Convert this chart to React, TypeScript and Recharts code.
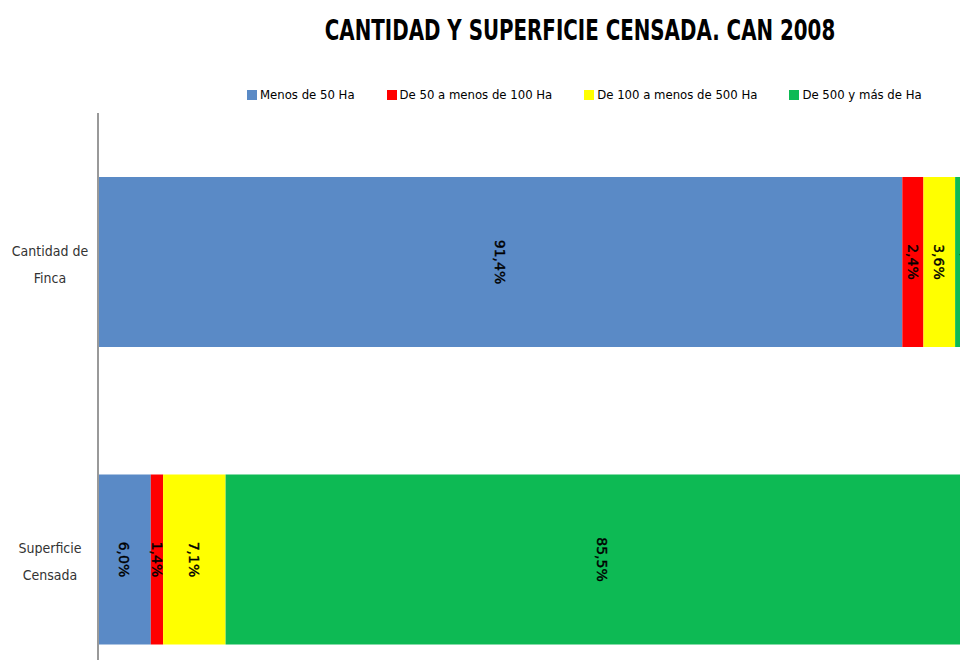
import { Bar, BarChart, LabelList, XAxis, YAxis } from "recharts";

const categories = ["Cantidad de Finca", "Superficie Censada"];
const tickLines = [
  ["Cantidad de", "Finca"],
  ["Superficie", "Censada"],
];

const seriesNames = [
  "Menos de 50 Ha",
  "De 50 a menos de 100 Ha",
  "De 100 a menos de 500 Ha",
  "De 500 y más de Ha",
];
const seriesColours = ["#5A8AC6", "#FF0000", "#FFFF00", "#0DBA54"];

const menos50 = [91.4, 6.0];
const de50a100 = [2.4, 1.4];
const de100a500 = [3.6, 7.1];
const de500mas = [2.6, 85.5];

const seriesValues = [menos50, de50a100, de100a500, de500mas];
const keys = ["s0", "s1", "s2", "s3"];

const data = categories.map((name, i) => {
  const row: Record<string, string | number> = { name };
  keys.forEach((k, s) => {
    row[k] = seriesValues[s][i];
  });
  return row;
});

const narrow = '"Liberation Sans Narrow", "DejaVu Sans Condensed", "Arial Narrow", sans-serif';

function fmt(v: number): string {
  return v.toFixed(1).replace(".", ",") + "%";
}

function CategoryTick(props: any) {
  const { x, y, payload } = props;
  const idx = categories.indexOf(payload.value);
  const lines = tickLines[idx] || [payload.value];
  return (
    <text
      x={x - 40}
      y={y - 6}
      textAnchor="middle"
      fill="#333"
      fontSize={14}
      fontFamily={narrow}
    >
      {lines.map((l, i) => (
        <tspan key={i} x={x - 40} dy={i === 0 ? 0 : 27}>
          {l}
        </tspan>
      ))}
    </text>
  );
}

function RotatedLabel(props: any) {
  const { x, y, width, height, value } = props;
  const cx = x + width / 2;
  const cy = y + height / 2;
  return (
    <text
      x={cx}
      y={cy}
      transform={`rotate(90 ${cx} ${cy})`}
      textAnchor="middle"
      dominantBaseline="central"
      fill="#000"
      stroke="#000"
      strokeWidth={0.4}
      fontSize={14}
      fontFamily='"DejaVu Sans", Verdana, sans-serif'
    >
      {fmt(value)}
    </text>
  );
}

export default function App() {
  return (
    <div
      style={{
        position: "fixed",
        left: 0,
        top: 0,
        width: 960,
        height: 660,
        overflow: "hidden",
        background: "#fff",
      }}
    >
      <div
        style={{
          position: "absolute",
          left: 200,
          width: 760,
          top: 13,
          textAlign: "center",
          fontFamily: narrow,
          fontWeight: "bold",
          fontSize: 29,
          color: "#000",
          whiteSpace: "nowrap",
          transform: "scaleX(0.76)",
          transformOrigin: "380px 0",
        }}
      >
        CANTIDAD Y SUPERFICIE CENSADA. CAN 2008
      </div>
      <div
        style={{
          position: "absolute",
          left: 247,
          top: 87,
          display: "flex",
          fontFamily: narrow,
          fontSize: 13,
          color: "#000",
          whiteSpace: "nowrap",
        }}
      >
        {seriesNames.map((n, i) => (
          <div
            key={n}
            style={{ display: "flex", alignItems: "center", marginRight: 32 }}
          >
            <span
              style={{
                width: 10,
                height: 10,
                background: seriesColours[i],
                marginRight: 3,
                display: "inline-block",
              }}
            />
            {n}
          </div>
        ))}
      </div>
      <BarChart
        width={990}
        height={720}
        data={data}
        layout="vertical"
        margin={{ top: 113, right: 12, left: 0, bottom: 12 }}
        barSize={170}
      >
        <XAxis type="number" domain={[0, 100]} hide />
        <YAxis
          type="category"
          dataKey="name"
          width={98}
          axisLine={{ stroke: "#999", strokeWidth: 2 }}
          tickLine={false}
          tick={<CategoryTick />}
        />
        {keys.map((k, s) => (
          <Bar
            key={k}
            dataKey={k}
            stackId="a"
            fill={seriesColours[s]}
            isAnimationActive={false}
          >
            <LabelList dataKey={k} content={<RotatedLabel />} />
          </Bar>
        ))}
      </BarChart>
    </div>
  );
}
